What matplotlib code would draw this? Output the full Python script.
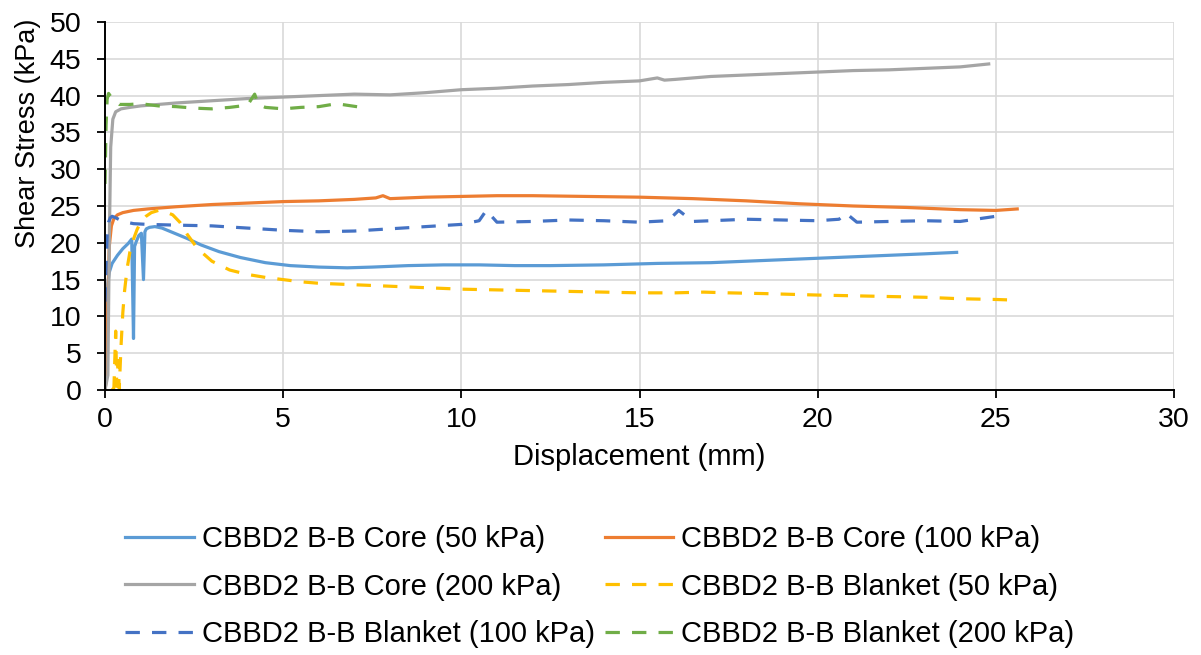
import matplotlib.pyplot as plt

# Data (displacement mm, shear stress kPa)
core50_x = [0.0, 0.03, 0.08, 0.12, 0.2, 0.35, 0.5, 0.65, 0.75, 0.8, 0.83, 0.88, 0.95, 1.02, 1.08, 1.12, 1.16, 1.25, 1.4, 1.6,
            1.9, 2.3, 2.7, 3.2, 3.8, 4.5, 5.2, 6.0, 6.8, 7.5, 8.5, 9.5, 10.5, 11.5, 12.5, 14.0, 15.5, 17.0, 18.5, 20.0, 21.5, 23.0, 23.9]
core50_y = [0.0, 8.0, 14.5, 16.0, 17.2, 18.3, 19.2, 19.9, 20.5, 7.0, 19.5, 20.2, 21.0, 21.3, 15.0, 21.5, 21.9, 22.1, 22.2, 22.0,
            21.4, 20.6, 19.7, 18.8, 18.0, 17.3, 16.9, 16.7, 16.6, 16.7, 16.9, 17.0, 17.0, 16.9, 16.9, 17.0, 17.2, 17.3, 17.6, 17.9, 18.2, 18.5, 18.7]

core100_x = [0.0, 0.05, 0.08, 0.12, 0.18, 0.25, 0.35, 0.5, 0.8, 1.2, 2.0, 3.0, 4.0, 5.0, 6.0, 7.0, 7.6, 7.8, 8.0, 9.0,
             10.0, 11.0, 12.0, 13.5, 15.0, 16.5, 18.0, 19.5, 21.0, 22.5, 24.0, 25.0, 25.6]
core100_y = [0.0, 2.0, 12.0, 19.5, 22.3, 23.3, 23.8, 24.1, 24.4, 24.6, 24.9, 25.2, 25.4, 25.6, 25.7, 25.9, 26.1, 26.4, 26.0, 26.2,
             26.3, 26.4, 26.4, 26.3, 26.2, 26.0, 25.7, 25.3, 25.0, 24.8, 24.5, 24.4, 24.6]

core200_x = [0.0, 0.08, 0.12, 0.16, 0.22, 0.3, 0.45, 0.7, 1.0, 1.5, 2.0, 3.0, 4.0, 5.0, 6.0, 7.0, 8.0, 9.0, 10.0, 11.0,
             12.0, 13.0, 14.0, 15.0, 15.5, 15.7, 16.0, 17.0, 18.0, 19.0, 20.0, 21.0, 22.0, 23.0, 24.0, 24.8]
core200_y = [0.0, 2.0, 20.0, 33.0, 36.8, 37.8, 38.2, 38.4, 38.6, 38.8, 39.0, 39.3, 39.6, 39.8, 40.0, 40.2, 40.1, 40.4, 40.8, 41.0,
             41.3, 41.5, 41.8, 42.0, 42.4, 42.1, 42.2, 42.6, 42.8, 43.0, 43.2, 43.4, 43.5, 43.7, 43.9, 44.3]

blanket50_x = [0.2, 0.25, 0.3, 0.33, 0.37, 0.4, 0.45, 0.5, 0.55, 0.62, 0.7, 0.8, 0.9, 1.0, 1.15, 1.3, 1.5, 1.7, 1.9, 2.1,
               2.3, 2.6, 3.0, 3.5, 4.0, 4.5, 5.0, 5.5, 6.0, 7.0, 8.0, 9.0, 10.0, 11.0, 12.0, 13.0, 14.0, 15.0, 16.0,
               16.8, 17.5, 18.5, 20.0, 21.0, 22.0, 23.0, 24.0, 25.0, 25.6]
blanket50_y = [0.0, 0.3, 8.0, 0.5, 4.0, 0.2, 6.0, 10.5, 13.5, 16.5, 18.8, 20.5, 21.8, 22.8, 23.6, 24.1, 24.4, 24.2, 23.8, 22.8,
               21.2, 19.2, 17.5, 16.3, 15.7, 15.3, 15.0, 14.7, 14.5, 14.3, 14.1, 13.9, 13.7, 13.6, 13.5, 13.4, 13.3, 13.2, 13.2,
               13.3, 13.2, 13.1, 12.9, 12.8, 12.7, 12.6, 12.4, 12.3, 12.2]

blanket100_x = [0.0, 0.03, 0.06, 0.1, 0.15, 0.2, 0.3, 0.5, 0.8, 1.2, 2.0, 3.0, 4.0, 5.0, 6.0, 7.0, 8.0, 9.0, 10.0, 10.5,
                10.7, 11.0, 12.0, 13.0, 14.0, 15.0, 15.8, 16.1, 16.5, 17.0, 18.0, 19.0, 20.0, 20.6, 20.8, 21.1, 22.0, 23.0, 24.0, 25.0]
blanket100_y = [12.0, 17.0, 21.0, 22.8, 23.4, 23.6, 23.4, 22.9, 22.6, 22.5, 22.4, 22.3, 22.0, 21.7, 21.5, 21.6, 21.9, 22.2, 22.5, 23.0,
                24.4, 22.8, 22.9, 23.1, 23.0, 22.8, 23.0, 24.4, 22.9, 23.0, 23.2, 23.1, 23.0, 23.2, 24.0, 22.8, 22.9, 23.0, 22.9, 23.6]

blanket200_x = [0.0, 0.03, 0.06, 0.1, 0.2, 0.4, 0.7, 1.0, 1.5, 2.0, 2.5, 3.0, 3.5, 4.0, 4.2, 4.3, 4.5, 5.0, 5.5, 6.0, 6.5, 7.2]
blanket200_y = [28.0, 36.0, 39.5, 40.3, 39.6, 38.8, 38.8, 38.9, 38.6, 38.5, 38.3, 38.2, 38.4, 38.7, 40.2, 38.8, 38.4, 38.2, 38.4, 38.5, 38.9, 38.4]

series = [
    ("CBBD2 B-B Core (50 kPa)", core50_x, core50_y, "#5B9BD5", "-"),
    ("CBBD2 B-B Core (100 kPa)", core100_x, core100_y, "#ED7D31", "-"),
    ("CBBD2 B-B Core (200 kPa)", core200_x, core200_y, "#A5A5A5", "-"),
    ("CBBD2 B-B Blanket (50 kPa)", blanket50_x, blanket50_y, "#FFC000", "--"),
    ("CBBD2 B-B Blanket (100 kPa)", blanket100_x, blanket100_y, "#4472C4", "--"),
    ("CBBD2 B-B Blanket (200 kPa)", blanket200_x, blanket200_y, "#70AD47", "--"),
]

plt.rcParams['font.family'] = ['Liberation Sans', 'DejaVu Sans']

W, H = 1201, 655
fig = plt.figure(figsize=(W / 100, H / 100), dpi=100)
ax = fig.add_axes([105 / W, 1 - 390 / H, (1174 - 105) / W, (390 - 22) / H])

lines = []
for label, xs, ys, color, ls in series:
    if ls == "--":
        ln, = ax.plot(xs, ys, color=color, lw=2.3, linestyle=(0, (4.5, 3.8)), label=label)
    else:
        ln, = ax.plot(xs, ys, color=color, lw=2.3, label=label)
    lines.append(ln)

ax.set_xlim(0, 30)
ax.set_ylim(0, 50)
ax.set_xticks(range(0, 31, 5))
ax.set_yticks(range(0, 51, 5))
ax.grid(True, color="#D9D9D9", lw=1.2)
ax.set_axisbelow(True)
for s in ["top", "right"]:
    ax.spines[s].set_visible(False)
for s in ["left", "bottom"]:
    ax.spines[s].set_color("black")
    ax.spines[s].set_linewidth(1.4)
ax.tick_params(axis="both", labelsize=20.5, length=6, width=1.3, direction="out", colors="black")
ax.tick_params(axis="x", pad=6.5)
ax.tick_params(axis="y", pad=11)
ax.set_xlabel("Displacement (mm)", fontsize=21, labelpad=7)
fig.text(28 / W, 1 - 133 / H, "Shear Stress (kPa)", rotation=90, fontsize=19.5, ha="center", va="center")

# Excel fills the legend row by row
order = [0, 2, 4, 1, 3, 5]
fig.legend([lines[i] for i in order], [series[i][0] for i in order],
           loc="upper left", bbox_to_anchor=(125 / W, 1 - 525 / H), ncol=2, frameon=False, fontsize=21,
           borderpad=0, borderaxespad=0, handlelength=2.36, columnspacing=0.34, labelspacing=0.67,
           handletextpad=0.27)

fig.savefig("out.png", dpi=100)
